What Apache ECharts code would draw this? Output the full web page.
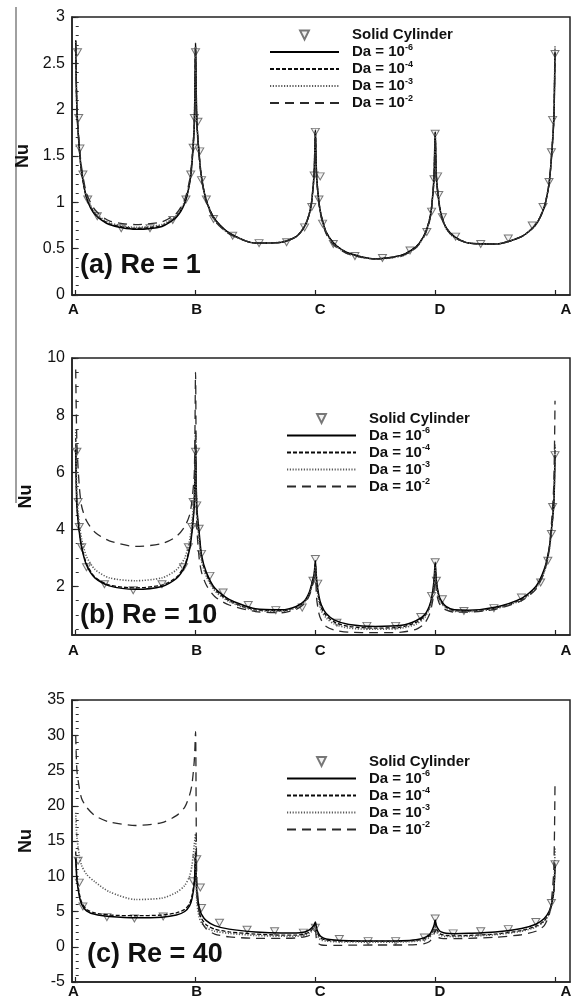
<!DOCTYPE html>
<html>
<head>
<meta charset="utf-8">
<script src="https://cdn.jsdelivr.net/npm/echarts@6/dist/echarts.min.js"></script>
<style>
html,body{margin:0;padding:0;background:#fff;}
#chart{width:576px;height:999px;}
</style>
</head>
<body>
<div id="chart"></div>
<script>
// ---------- data ----------
const xLetters = ['A', 'B', 'C', 'D', 'A'];
const xTickPos = [0, 1, 2, 3, 4];
const yTicksA = [0, 0.5, 1, 1.5, 2, 2.5, 3];
const yTicksB = [2, 4, 6, 8, 10];
const yTicksC = [-5, 0, 5, 10, 15, 20, 25, 30, 35];
const seriesNames = ['Solid Cylinder', 'Da = 10^-6', 'Da = 10^-4', 'Da = 10^-3', 'Da = 10^-2'];
const panelTitles = ['(a) Re = 1', '(b) Re = 10', '(c) Re = 40'];

// position along the cylinder surface (A=0, B=1, C=2, D=3, A=4)
const xPos = [
  0, 0.01, 0.03, 0.05, 0.09, 0.16, 0.28, 0.5, 0.72, 0.84, 0.91, 0.95, 0.97, 0.99,
  1, 1.01, 1.03, 1.05, 1.09, 1.16, 1.28, 1.5, 1.72, 1.84, 1.91, 1.95, 1.97, 1.99,
  2, 2.01, 2.03, 2.05, 2.09, 2.16, 2.28, 2.5, 2.72, 2.84, 2.91, 2.95, 2.97, 2.99,
  3, 3.01, 3.03, 3.05, 3.09, 3.16, 3.28, 3.5, 3.72, 3.84, 3.91, 3.95, 3.97, 3.99,
  4
];

// (a) Re = 1
const nuA_Da6 = [
  2.75, 2.0, 1.58, 1.32, 1.05, 0.87, 0.76, 0.71, 0.74, 0.84, 0.99, 1.2, 1.42, 1.85,
  2.72, 1.9, 1.52, 1.27, 1.02, 0.82, 0.67, 0.56, 0.57, 0.63, 0.74, 0.88, 1.02, 1.32,
  1.78, 1.3, 1.0, 0.85, 0.68, 0.55, 0.45, 0.39, 0.43, 0.52, 0.65, 0.8, 0.95, 1.27,
  1.76, 1.28, 1.02, 0.87, 0.73, 0.63, 0.56, 0.55, 0.63, 0.76, 0.95, 1.2, 1.48, 1.9,
  2.62
];
const nuA_Da4 = [
  2.74, 2.0, 1.58, 1.32, 1.06, 0.88, 0.77, 0.72, 0.75, 0.85, 1.0, 1.21, 1.43, 1.86,
  2.7, 1.9, 1.52, 1.27, 1.02, 0.82, 0.67, 0.56, 0.57, 0.63, 0.74, 0.88, 1.02, 1.32,
  1.77, 1.3, 1.0, 0.85, 0.68, 0.55, 0.45, 0.39, 0.43, 0.52, 0.65, 0.8, 0.95, 1.27,
  1.75, 1.28, 1.02, 0.87, 0.73, 0.63, 0.56, 0.55, 0.63, 0.76, 0.95, 1.2, 1.48, 1.9,
  2.66
];
const nuA_Da3 = [
  2.73, 2.01, 1.59, 1.33, 1.07, 0.89, 0.78, 0.73, 0.76, 0.86, 1.01, 1.22, 1.44, 1.86,
  2.68, 1.89, 1.51, 1.26, 1.01, 0.81, 0.66, 0.56, 0.57, 0.63, 0.74, 0.88, 1.02, 1.32,
  1.76, 1.29, 0.99, 0.84, 0.67, 0.54, 0.44, 0.39, 0.42, 0.51, 0.64, 0.79, 0.94, 1.26,
  1.74, 1.27, 1.01, 0.86, 0.72, 0.62, 0.56, 0.55, 0.63, 0.76, 0.95, 1.2, 1.49, 1.92,
  2.7
];
const nuA_Da2 = [
  2.7, 2.02, 1.62, 1.37, 1.1, 0.92, 0.8, 0.76, 0.79, 0.88, 1.03, 1.24, 1.45, 1.85,
  2.65, 1.85, 1.49, 1.25, 1.0, 0.8, 0.66, 0.56, 0.57, 0.63, 0.74, 0.87, 1.0, 1.3,
  1.72, 1.27, 0.98, 0.83, 0.66, 0.53, 0.44, 0.39, 0.42, 0.51, 0.64, 0.78, 0.93, 1.24,
  1.7, 1.25, 1.0, 0.85, 0.72, 0.62, 0.56, 0.55, 0.63, 0.76, 0.95, 1.2, 1.48, 1.9,
  2.6
];
const solidA_x = [0.015, 0.025, 0.035, 0.06, 0.1, 0.18, 0.38, 0.62, 0.81, 0.92, 0.96, 0.98, 0.99, 1.0,
  1.02, 1.035, 1.05, 1.09, 1.15, 1.31, 1.53, 1.76, 1.91, 1.97, 1.99, 2.0, 2.03, 2.04, 2.06, 2.15,
  2.33, 2.56, 2.79, 2.93, 2.97, 2.99, 3.0, 3.02, 3.03, 3.06, 3.17, 3.38, 3.61, 3.81, 3.9, 3.95,
  3.97, 3.98, 4.0];
const solidA_y = [2.62, 1.91, 1.58, 1.30, 1.03, 0.85, 0.72, 0.72, 0.81, 1.03, 1.30, 1.59, 1.91, 2.62,
  1.87, 1.55, 1.24, 1.03, 0.82, 0.64, 0.56, 0.57, 0.73, 0.95, 1.29, 1.76, 1.03, 1.28, 0.77, 0.55,
  0.42, 0.40, 0.48, 0.68, 0.90, 1.25, 1.74, 1.28, 1.08, 0.84, 0.63, 0.55, 0.61, 0.75, 0.95, 1.22,
  1.54, 1.89, 2.60];

// (b) Re = 10
const nuB_Da6 = [
  6.8, 4.8, 3.9, 3.35, 2.75, 2.3, 2.02, 1.9, 2.0, 2.28, 2.7, 3.3, 3.9, 4.9,
  6.8, 4.8, 3.9, 3.1, 2.5, 1.95, 1.55, 1.22, 1.18, 1.3, 1.5, 1.8, 2.1, 2.45,
  2.9, 2.25, 1.65, 1.35, 1.05, 0.82, 0.67, 0.6, 0.64, 0.8, 1.0, 1.3, 1.6, 2.2,
  2.85, 2.2, 1.7, 1.5, 1.3, 1.18, 1.17, 1.27, 1.58, 2.0, 2.6, 3.3, 4.0, 4.9,
  6.6
];
const nuB_Da4 = [
  7.2, 4.9, 3.95, 3.4, 2.8, 2.33, 2.05, 1.95, 2.05, 2.32, 2.75, 3.35, 3.95, 5.0,
  7.3, 4.7, 3.8, 3.0, 2.42, 1.9, 1.5, 1.18, 1.15, 1.27, 1.47, 1.75, 2.05, 2.4,
  2.8, 2.15, 1.55, 1.25, 0.98, 0.75, 0.6, 0.54, 0.58, 0.74, 0.95, 1.25, 1.55, 2.1,
  2.75, 2.1, 1.65, 1.45, 1.27, 1.15, 1.14, 1.24, 1.55, 1.97, 2.55, 3.25, 3.95, 4.9,
  6.9
];
const nuB_Da3 = [
  7.5, 5.2, 4.2, 3.65, 3.05, 2.6, 2.3, 2.2, 2.3, 2.58, 3.0, 3.6, 4.25, 5.3,
  7.4, 4.6, 3.6, 2.9, 2.35, 1.85, 1.47, 1.16, 1.13, 1.25, 1.45, 1.72, 2.0, 2.35,
  2.7, 2.05, 1.45, 1.15, 0.9, 0.68, 0.54, 0.5, 0.54, 0.68, 0.9, 1.2, 1.5, 2.0,
  2.65, 2.05, 1.6, 1.42, 1.25, 1.13, 1.12, 1.22, 1.52, 1.93, 2.5, 3.2, 3.9, 4.9,
  7.0
];
const nuB_Da2 = [
  9.6, 7.0, 5.5, 4.8, 4.3, 3.9, 3.6, 3.4, 3.5, 3.75, 4.1, 4.5, 5.0, 6.0,
  9.5, 4.2, 3.0, 2.5, 2.05, 1.65, 1.35, 1.12, 1.08, 1.2, 1.4, 1.68, 1.95, 2.3,
  2.6, 1.6, 1.05, 0.82, 0.6, 0.47, 0.4, 0.38, 0.4, 0.5, 0.7, 1.0, 1.3, 1.8,
  2.5, 1.8, 1.45, 1.3, 1.18, 1.1, 1.1, 1.2, 1.5, 1.9, 2.5, 3.3, 4.2, 5.6,
  8.5
];
const solidB_x = [0.01, 0.02, 0.03, 0.05, 0.09, 0.24, 0.48, 0.72, 0.9, 0.94, 0.97, 0.98, 1.0,
  1.01, 1.03, 1.05, 1.12, 1.23, 1.44, 1.67, 1.89, 1.98, 2.0, 2.02, 2.18, 2.43, 2.67, 2.88,
  2.97, 3.0, 3.01, 3.06, 3.24, 3.49, 3.72, 3.88, 3.94, 3.97, 3.98, 4.0];
const solidB_y = [6.72, 4.96, 4.08, 3.37, 2.67, 2.08, 1.87, 2.08, 2.67, 3.37, 4.08, 4.96, 6.72,
  4.84, 4.02, 3.14, 2.37, 1.79, 1.35, 1.17, 1.26, 2.2, 2.96, 2.1, 0.73, 0.62, 0.62, 0.93,
  1.67, 2.85, 2.2, 1.55, 1.14, 1.24, 1.61, 2.14, 2.9, 3.84, 4.78, 6.6];

// (c) Re = 40
const nuC_Da6 = [
  12.5, 9.5, 7.2, 6.0, 5.1, 4.6, 4.3, 4.1, 4.2, 4.5, 5.0, 5.8, 6.8, 9.0,
  12.8, 8.0, 5.6, 4.6, 3.7, 3.0, 2.5, 2.1, 1.95, 1.95, 2.1, 2.4, 2.7, 3.1,
  3.5, 2.6, 1.8, 1.4, 1.1, 0.95, 0.85, 0.8, 0.85, 1.0, 1.3, 1.7, 2.2, 3.0,
  3.8, 3.0, 2.4, 2.1, 1.9, 1.85, 1.9, 2.1, 2.6, 3.2, 4.0, 5.0, 6.0, 8.0,
  11.5
];
const nuC_Da4 = [
  13.5, 10, 7.6, 6.3, 5.3, 4.8, 4.5, 4.4, 4.5, 4.8, 5.3, 6.1, 7.2, 9.5,
  13.5, 7.5, 5.0, 4.0, 3.1, 2.5, 2.1, 1.8, 1.65, 1.65, 1.8, 2.1, 2.4, 2.8,
  3.2, 2.3, 1.5, 1.15, 0.95, 0.85, 0.78, 0.75, 0.78, 0.9, 1.15, 1.5, 1.9, 2.7,
  3.5, 2.6, 2.0, 1.75, 1.6, 1.55, 1.6, 1.8, 2.3, 2.9, 3.7, 4.7, 5.8, 7.8,
  12.0
];
const nuC_Da3 = [
  19.0, 15.5, 13.0, 11.5, 10.3, 9.2, 7.8, 6.7, 6.9, 7.7, 8.7, 10.0, 11.5, 14.5,
  16.0, 6.5, 4.2, 3.4, 2.7, 2.2, 1.9, 1.6, 1.5, 1.5, 1.6, 1.9, 2.2, 2.5,
  2.8, 1.9, 1.2, 0.95, 0.8, 0.72, 0.68, 0.65, 0.68, 0.78, 1.0, 1.3, 1.7, 2.4,
  3.0, 2.2, 1.7, 1.55, 1.45, 1.45, 1.5, 1.7, 2.2, 2.8, 3.6, 4.6, 5.8, 8.0,
  14.0
];
const nuC_Da2 = [
  30.0, 25.0, 22.5, 21.0, 19.8, 18.6, 17.7, 17.2, 17.6, 18.6, 19.8, 21.5, 23.0, 26.5,
  30.5, 10.0, 5.0, 3.6, 2.5, 1.8, 1.4, 1.2, 1.2, 1.25, 1.4, 1.6, 1.9, 2.1,
  2.3, 1.0, 0.4, 0.25, 0.2, 0.2, 0.22, 0.25, 0.25, 0.3, 0.45, 0.7, 1.1, 1.8,
  2.5, 1.6, 1.3, 1.2, 1.15, 1.15, 1.2, 1.35, 1.7, 2.2, 3.0, 4.5, 6.5, 11.0,
  23.5
];
const solidC_x = [0.02, 0.03, 0.06, 0.26, 0.49, 0.73, 0.98, 1.01, 1.04, 1.05, 1.2, 1.43, 1.66, 1.9,
  2.0, 2.2, 2.44, 2.67, 2.91, 3.0, 3.15, 3.38, 3.61, 3.84, 3.97, 4.0];
const solidC_y = [12.2, 9.1, 5.7, 4.2, 4.0, 4.3, 9.3, 12.4, 8.4, 5.5, 3.4, 2.4, 2.2, 2.0,
  2.7, 1.1, 0.8, 0.8, 1.3, 4.0, 1.9, 2.2, 2.5, 3.5, 6.2, 11.7];

// ---------- chart ----------
const FONT = '"Liberation Sans", Arial, Helvetica, sans-serif';
const LINE_STYLES = [
  { color: '#000000', width: 1.5, type: 'solid' },
  { color: '#0a0a0a', width: 1.3, type: [4, 2] },
  { color: '#5a5a5a', width: 1.6, type: [1.2, 1.6] },
  { color: '#2a2a2a', width: 1.3, type: [9, 6] }
];

function zip(xs, ys) { return xs.map((x, i) => [x, ys[i]]); }
function minorTicks(min, max, step) {
  const out = [];
  const start = Math.ceil(min / step - 1e-9);
  const end = Math.floor(max / step + 1e-9);
  for (let k = start; k <= end; k++) out.push(+(k * step).toFixed(4));
  return out;
}

const panels = [
  { grid: { left: 72, top: 17, width: 498, height: 278 }, ymin: 0, ymax: 3, ticks: yTicksA, minorStep: 0.1,
    curves: [nuA_Da6, nuA_Da4, nuA_Da3, nuA_Da2], sx: solidA_x, sy: solidA_y,
    xLabelMargin: 7, legendPos: { left: 269, top: 27.5 }, titlePos: { left: 80, top: 252 } },
  { grid: { left: 72, top: 358, width: 498, height: 277 }, ymin: 0.3, ymax: 10, ticks: yTicksB, minorStep: 0.5,
    curves: [nuB_Da6, nuB_Da4, nuB_Da3, nuB_Da2], sx: solidB_x, sy: solidB_y,
    xLabelMargin: 8, legendPos: { left: 286, top: 411 }, titlePos: { left: 80, top: 602 } },
  { grid: { left: 72, top: 700, width: 498, height: 283 }, ymin: -5, ymax: 35, ticks: yTicksC, minorStep: 1,
    curves: [nuC_Da6, nuC_Da4, nuC_Da3, nuC_Da2], sx: solidC_x, sy: solidC_y,
    xLabelMargin: 2, legendPos: { left: 286, top: 754 }, titlePos: { left: 87, top: 941 } }
];

const grids = [], xAxes = [], yAxes = [], series = [], legends = [], graphics = [];

graphics.push({ type: 'line', shape: { x1: 16, y1: 7, x2: 16, y2: 503 },
  style: { stroke: '#808080', lineWidth: 1.5 }, silent: true });

function legendFormatter(name) {
  const i = name.indexOf('^');
  if (i < 0) return '{t|' + name + '}';
  return '{t|' + name.slice(0, i) + '}{s|' + name.slice(i + 1) + '}';
}

panels.forEach((p, i) => {
  grids.push(Object.assign({ show: true, borderColor: '#222', borderWidth: 1.5, containLabel: false }, p.grid));
  xAxes.push({
    gridIndex: i, type: 'value', min: -0.031, max: 4.125,
    splitLine: { show: false },
    axisLine: { show: true, onZero: false, lineStyle: { color: '#222', width: 1.5 } },
    axisTick: { show: true, inside: true, length: 5, customValues: xTickPos, lineStyle: { color: '#222', width: 1.2 } },
    axisLabel: {
      customValues: [-0.02, 1.01, 2.04, 3.04, 4.09],
      formatter: v => xLetters[Math.round(v)],
      margin: p.xLabelMargin, fontFamily: FONT, fontWeight: 'bold', fontSize: 15, color: '#111'
    }
  });
  yAxes.push({
    gridIndex: i, type: 'value', min: p.ymin, max: p.ymax, position: 'left',
    splitLine: { show: false },
    axisLine: { show: true, onZero: false, lineStyle: { color: '#222', width: 1.5 } },
    axisTick: { show: true, inside: true, length: 6, customValues: p.ticks, lineStyle: { color: '#222', width: 1.2 } },
    axisLabel: { customValues: p.ticks, margin: 7, fontFamily: FONT, fontSize: 16, color: '#111' },
    name: 'Nu', nameLocation: 'middle', nameGap: 37, nameRotate: 90,
    nameTextStyle: { fontFamily: FONT, fontWeight: 'bold', fontSize: 18, color: '#111' }
  });
  yAxes.push({
    gridIndex: i, type: 'value', min: p.ymin, max: p.ymax, position: 'left', offset: 0,
    splitLine: { show: false }, axisLine: { show: false }, axisLabel: { show: false },
    axisTick: { show: true, inside: true, length: 3, customValues: minorTicks(p.ymin, p.ymax, p.minorStep),
      lineStyle: { color: '#333', width: 1 } }
  });

  series.push({
    type: 'line', name: seriesNames[0], xAxisIndex: i, yAxisIndex: 2 * i,
    data: zip(p.sx, p.sy), symbol: 'triangle', symbolRotate: 180, symbolSize: [8, 7], showSymbol: true,
    lineStyle: { opacity: 0, width: 0 },
    itemStyle: { color: '#f2f2f2', borderColor: '#777777', borderWidth: 1 },
    z: 2, silent: true, animation: false
  });
  p.curves.forEach((c, k) => {
    series.push({
      type: 'line', name: seriesNames[k + 1], xAxisIndex: i, yAxisIndex: 2 * i,
      data: zip(xPos, c), symbol: 'none', smooth: 0.25,
      lineStyle: LINE_STYLES[k], itemStyle: { color: LINE_STYLES[k].color },
      z: 3, silent: true, animation: false
    });
  });

  legends.push({
    orient: 'vertical', left: p.legendPos.left, top: p.legendPos.top, padding: 0,
    itemWidth: 69, itemHeight: 11, itemGap: 0.5, selectedMode: false,
    data: seriesNames.map((n, k) => k === 0 ? { name: n, lineStyle: { opacity: 0 } } : { name: n, itemStyle: { opacity: 0 } }),
    formatter: legendFormatter,
    textStyle: {
      fontFamily: FONT, fontSize: 15, fontWeight: 'bold', color: '#111',
      rich: {
        t: { fontFamily: FONT, fontSize: 15, fontWeight: 'bold', color: '#111', lineHeight: 18, padding: [0, 0, 0, 8] },
        s: { fontFamily: FONT, fontSize: 9, fontWeight: 'bold', color: '#111', lineHeight: 10, verticalAlign: 'top' }
      }
    }
  });

  graphics.push({ type: 'text', left: p.titlePos.left, top: p.titlePos.top, silent: true,
    style: { text: panelTitles[i], font: 'bold 27px ' + FONT, fill: '#111' } });
});

const chart = echarts.init(document.getElementById('chart'), null, { renderer: 'canvas' });
chart.setOption({
  animation: false,
  backgroundColor: '#ffffff',
  textStyle: { fontFamily: FONT },
  grid: grids, xAxis: xAxes, yAxis: yAxes, series: series, legend: legends, graphic: graphics
});
</script>
</body>
</html>
